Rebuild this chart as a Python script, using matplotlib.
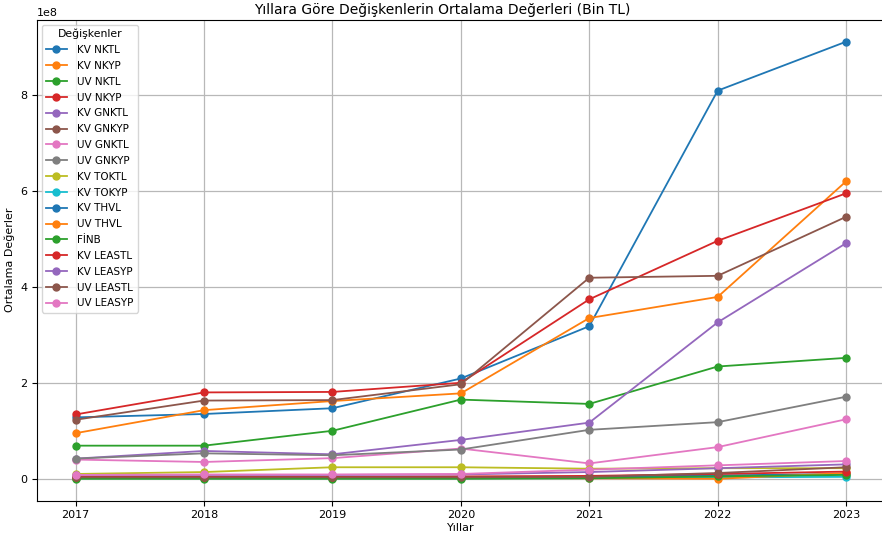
import matplotlib
matplotlib.use("Agg")
import matplotlib.pyplot as plt

years = [2017, 2018, 2019, 2020, 2021, 2022, 2023]

kv_nktl = [1.28e8, 1.35e8, 1.47e8, 2.09e8, 3.18e8, 8.09e8, 9.11e8]
kv_nkyp = [0.95e8, 1.43e8, 1.62e8, 1.78e8, 3.35e8, 3.79e8, 6.20e8]
uv_nktl = [0.69e8, 0.69e8, 1.00e8, 1.65e8, 1.56e8, 2.34e8, 2.52e8]
uv_nkyp = [1.34e8, 1.80e8, 1.81e8, 2.00e8, 3.74e8, 4.96e8, 5.95e8]
kv_gnktl = [0.42e8, 0.58e8, 0.51e8, 0.81e8, 1.17e8, 3.26e8, 4.91e8]
kv_gnkyp = [1.23e8, 1.63e8, 1.64e8, 1.97e8, 4.19e8, 4.23e8, 5.46e8]
uv_gnktl = [0.40e8, 0.35e8, 0.43e8, 0.63e8, 0.32e8, 0.66e8, 1.24e8]
uv_gnkyp = [0.42e8, 0.53e8, 0.49e8, 0.61e8, 1.02e8, 1.18e8, 1.71e8]
kv_toktl = [0.10e8, 0.14e8, 0.24e8, 0.24e8, 0.21e8, 0.22e8, 0.22e8]
kv_tokyp = [0.01e8, 0.01e8, 0.01e8, 0.01e8, 0.02e8, 0.03e8, 0.04e8]
kv_thvl = [0.02e8, 0.02e8, 0.02e8, 0.03e8, 0.04e8, 0.07e8, 0.10e8]
uv_thvl = [0.02e8, 0.02e8, 0.02e8, 0.02e8, 0.01e8, 0.00e8, 0.12e8]
finb = [0.00e8, 0.00e8, 0.00e8, 0.00e8, 0.01e8, 0.05e8, 0.08e8]
kv_leastl = [0.04e8, 0.04e8, 0.04e8, 0.05e8, 0.06e8, 0.10e8, 0.15e8]
kv_leasyp = [0.08e8, 0.08e8, 0.08e8, 0.09e8, 0.14e8, 0.22e8, 0.30e8]
uv_leastl = [0.03e8, 0.03e8, 0.03e8, 0.03e8, 0.04e8, 0.12e8, 0.24e8]
uv_leasyp = [0.08e8, 0.09e8, 0.09e8, 0.10e8, 0.19e8, 0.28e8, 0.37e8]

labels = ["KV NKTL", "KV NKYP", "UV NKTL", "UV NKYP", "KV GNKTL", "KV GNKYP",
          "UV GNKTL", "UV GNKYP", "KV TOKTL", "KV TOKYP", "KV THVL", "UV THVL",
          "FİNB", "KV LEASTL", "KV LEASYP", "UV LEASTL", "UV LEASYP"]
series = [kv_nktl, kv_nkyp, uv_nktl, uv_nkyp, kv_gnktl, kv_gnkyp, uv_gnktl,
          uv_gnkyp, kv_toktl, kv_tokyp, kv_thvl, uv_thvl, finb, kv_leastl,
          kv_leasyp, uv_leastl, uv_leasyp]

fig = plt.figure(figsize=(8.82, 5.36), dpi=100)
ax = fig.add_axes([0.042, 0.066, 0.961, 0.897])

for lab, vals in zip(labels, series):
    ax.plot(years, vals, marker="o", markersize=5, linewidth=1.3, label=lab)

fig.text(0.502, 0.974, "Yıllara Göre Değişkenlerin Ortalama Değerleri (Bin TL)",
         fontsize=10, ha="center", va="baseline")
ax.set_xlabel("Yıllar", fontsize=8, labelpad=2)
ax.set_ylabel("Ortalama Değerler", fontsize=8, labelpad=4)
ax.tick_params(labelsize=8)
ax.yaxis.get_offset_text().set_fontsize(8)
ax.set_xticks(years)
ax.grid(True, color="#b8b8b8", linewidth=0.9)
ax.legend(title="Değişkenler", loc="upper left", fontsize=7.5, title_fontsize=7.8,
          labelspacing=0.56, handlelength=2.0, handletextpad=1.0,
          borderaxespad=0.45)

fig.savefig("out.png", dpi=100)
